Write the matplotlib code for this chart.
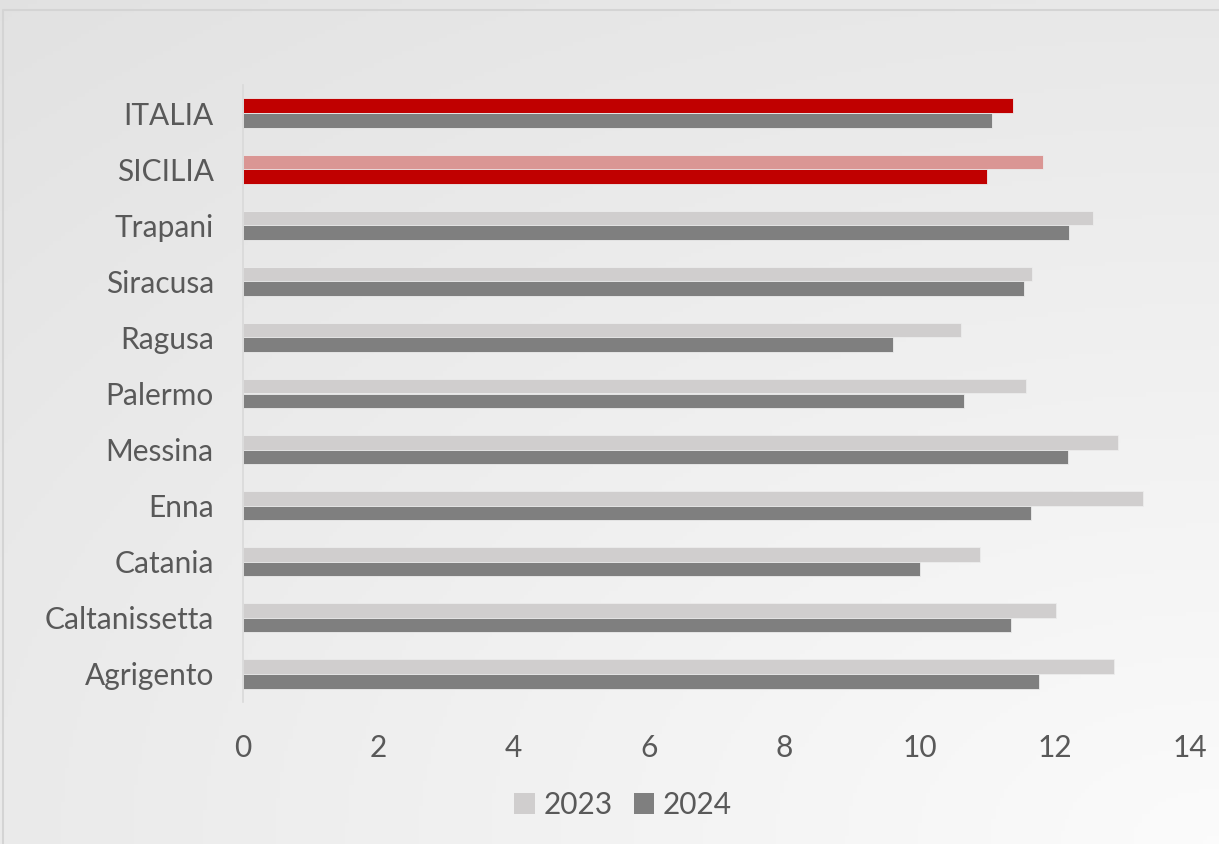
import matplotlib
matplotlib.use("Agg")
import matplotlib.pyplot as plt
import numpy as np
from matplotlib.patches import Patch

categories = ["Agrigento", "Caltanissetta", "Catania", "Enna", "Messina",
              "Palermo", "Ragusa", "Siracusa", "Trapani", "SICILIA", "ITALIA"]
v2023 = [12.88, 12.02, 10.89, 13.30, 12.94, 11.58, 10.62, 11.67, 12.57, 11.82, 11.38]
v2024 = [11.77, 11.36, 10.01, 11.65, 12.20, 10.66, 9.61, 11.55, 12.21, 11.00, 11.07]
xticks = [0, 2, 4, 6, 8, 10, 12, 14]
series_labels = ["2023", "2024"]

C23 = "#d0cece"
C24 = "#7f7f7f"
RED = "#c00000"
PINK = "#da9694"
TXT = "#595959"
FONT = "Lato"
FS = 21.5

col23 = [C23] * 9 + [PINK, RED]
col24 = [C24] * 9 + [RED, C24]

W, H = 1219, 844
fig = plt.figure(figsize=(W / 100, H / 100), dpi=100)

# background gradient
bg = fig.add_axes([0, 0, 1, 1], zorder=-10)
yy, xx = np.mgrid[0:1:200j, 0:1:300j]
d = np.sqrt((1 - xx) ** 2 * 0.8 + (yy) ** 2 * 1.0)
d = d / d.max()
g = 0.985 - 0.10 * d
img = np.dstack([g, g, g])
bg.imshow(img, extent=[0, 1, 0, 1], aspect="auto", origin="lower")
bg.set_xlim(0, 1)
bg.set_ylim(0, 1)
bg.axis("off")
bg.plot([3 / W, 3 / W, 1.0], [0, 1 - 10 / H, 1 - 10 / H], color="#d4d4d4", lw=1.5)

ax = fig.add_axes([243 / W, 1 - 702 / H, (1190 - 243) / W, (702 - 85) / H])
ax.set_facecolor("none")
y = np.arange(len(categories))
h = 0.26
ax.barh(y + h / 2, v2023, height=h, color=col23, edgecolor="#ececec", linewidth=0.6)
ax.barh(y - h / 2, v2024, height=h, color=col24, edgecolor="#ececec", linewidth=0.6)

ax.set_xlim(0, 14)
ax.set_ylim(-0.5, len(categories) - 0.5)
ax.set_xticks(xticks)
ax.set_xticklabels([str(t) for t in xticks])
ax.set_yticks(y)
ax.set_yticklabels(categories)
for s in ["top", "right", "bottom"]:
    ax.spines[s].set_visible(False)
ax.spines["left"].set_color("#d9d9d9")
ax.spines["left"].set_linewidth(1.2)
ax.tick_params(axis="both", length=0, labelsize=FS, labelcolor=TXT)
ax.tick_params(axis="x", pad=23)
ax.tick_params(axis="y", pad=21)
for lab in ax.get_xticklabels() + ax.get_yticklabels():
    lab.set_fontfamily(FONT)

handles = [Patch(facecolor=C23, edgecolor="none"), Patch(facecolor=C24, edgecolor="none")]
leg = fig.legend(handles, series_labels, loc="center", bbox_to_anchor=(623 / W, 1 - 805 / H),
                 ncol=2, frameon=False, prop={"family": FONT, "size": FS},
                 handlelength=0.68, handleheight=0.68, handletextpad=0.3, columnspacing=0.7)
for t in leg.get_texts():
    t.set_color(TXT)

fig.savefig("out.png", dpi=100)
